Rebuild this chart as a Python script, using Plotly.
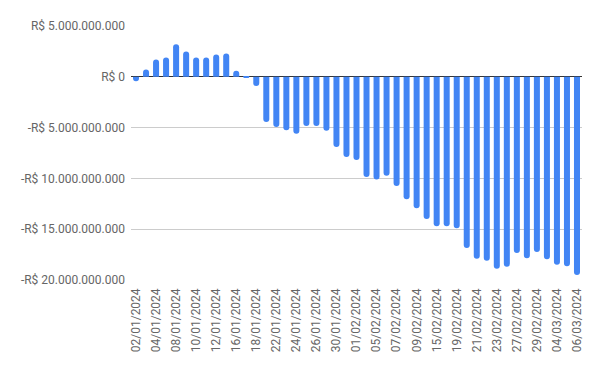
import plotly.graph_objects as go

dates = [
    "02/01/2024", "03/01/2024", "04/01/2024", "05/01/2024", "08/01/2024", "09/01/2024",
    "10/01/2024", "11/01/2024", "12/01/2024", "15/01/2024", "16/01/2024", "17/01/2024",
    "18/01/2024", "19/01/2024", "22/01/2024", "23/01/2024", "24/01/2024", "25/01/2024",
    "26/01/2024", "29/01/2024", "30/01/2024", "31/01/2024", "01/02/2024", "02/02/2024",
    "05/02/2024", "06/02/2024", "07/02/2024", "08/02/2024", "09/02/2024", "14/02/2024",
    "15/02/2024", "16/02/2024", "19/02/2024", "20/02/2024", "21/02/2024", "22/02/2024",
    "23/02/2024", "26/02/2024", "27/02/2024", "28/02/2024", "29/02/2024", "01/03/2024",
    "04/03/2024", "05/03/2024", "06/03/2024",
]

# values in billions of R$
values_bi = [
    -0.45, 0.72, 1.7, 1.9, 3.2, 2.5,
    1.9, 1.9, 2.2, 2.3, 0.6, -0.1,
    -0.9, -4.45, -4.95, -5.25, -5.6, -4.85,
    -4.85, -5.3, -6.9, -7.9, -8.2, -9.85,
    -10.1, -9.75, -10.75, -12.05, -12.95, -14.0,
    -14.7, -14.7, -14.9, -16.85, -17.9, -18.1,
    -18.9, -18.7, -17.35, -17.85, -17.25, -17.95,
    -18.5, -18.65, -19.5,
]
values = [v * 1e9 for v in values_bi]

tick_dates = dates[::2]

y_ticks = [5e9, 0, -5e9, -10e9, -15e9, -20e9]
y_labels = ["R$ 5.000.000.000", "R$ 0", "-R$ 5.000.000.000", "-R$ 10.000.000.000",
            "-R$ 15.000.000.000", "-R$ 20.000.000.000"]

fig = go.Figure(go.Bar(
    x=dates, y=values,
    marker=dict(color="#4285F4", cornerradius=3, line=dict(width=0)),
))

# page body has an 8px margin, so the figure is sized/offset to compensate
fig.update_layout(
    width=592, height=363,
    margin=dict(l=123, r=18, t=18, b=91),
    paper_bgcolor="white", plot_bgcolor="white",
    bargap=0.4,
    showlegend=False,
    font=dict(family="Roboto", size=12, color="#666666"),
    xaxis=dict(
        type="category",
        tickmode="array", tickvals=tick_dates, ticktext=tick_dates,
        tickangle=-90, showgrid=False, ticks="", showline=False,
        ticklabelstandoff=5,
        tickfont=dict(size=12, color="#666666"),
    ),
    yaxis=dict(
        range=[-20e9, 5e9],
        tickmode="array", tickvals=y_ticks, ticktext=y_labels,
        showgrid=True, gridcolor="#cccccc", gridwidth=1,
        zeroline=True, zerolinecolor="#333333", zerolinewidth=1,
        ticks="", showline=False,
        ticklabelstandoff=5,
        tickfont=dict(size=12, color="#666666"),
    ),
)

fig.write_html("out.html")
